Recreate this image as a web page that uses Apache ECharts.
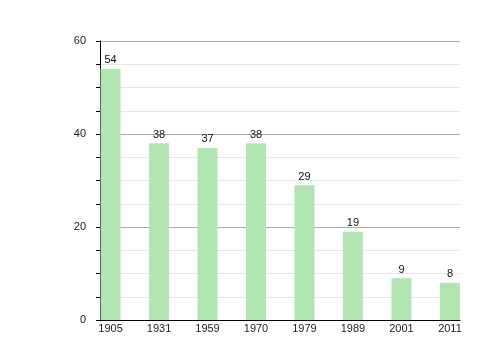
<!DOCTYPE html>
<html>
<head>
<meta charset="utf-8">
<script src="https://cdn.jsdelivr.net/npm/echarts@6/dist/echarts.min.js"></script>
<style>html,body{margin:0;padding:0;background:#fff}#c{width:500px;height:360px}</style>
</head>
<body>
<div id="c"></div>
<script>
var years = ['1905','1931','1959','1970','1979','1989','2001','2011'];
var values = [54, 38, 37, 38, 29, 19, 9, 8];
var yTicks = [0, 20, 40, 60];

var chart = echarts.init(document.getElementById('c'), null, {renderer: 'canvas'});
var idx = years.map(function (_, i) { return i; });
chart.setOption({
  animation: false,
  backgroundColor: '#ffffff',
  grid: {left: 100, top: 41, width: 360, height: 279, containLabel: false},
  xAxis: {
    type: 'value',
    min: -0.217,
    max: 7.207,
    axisLine: {show: true, onZero: false, lineStyle: {color: '#000', width: 1}},
    axisTick: {show: false},
    splitLine: {show: false},
    axisLabel: {
      customValues: idx,
      formatter: function (v) { return years[Math.round(v)]; },
      color: '#222', fontSize: 11, fontFamily: 'Liberation Sans, Arial, sans-serif', margin: 3
    }
  },
  yAxis: {
    type: 'value',
    min: yTicks[0],
    max: yTicks[yTicks.length - 1],
    interval: 20,
    axisLine: {show: true, onZero: false, lineStyle: {color: '#000', width: 1}},
    axisTick: {show: true, length: 4, lineStyle: {color: '#000'}},
    minorTick: {show: true, splitNumber: 4, length: 4, lineStyle: {color: '#000'}},
    splitLine: {show: true, lineStyle: {color: '#aaaaaa', width: 1}},
    minorSplitLine: {show: true, lineStyle: {color: '#e6e6e6', width: 1}},
    axisLabel: {color: '#222', fontSize: 11, fontFamily: 'Liberation Sans, Arial, sans-serif', margin: 14}
  },
  series: [{
    type: 'bar',
    barWidth: 20,
    clip: false,
    itemStyle: {color: '#b3e5b3'},
    label: {show: true, position: 'top', distance: 3, color: '#111', fontSize: 11, fontFamily: 'Liberation Sans, Arial, sans-serif'},
    data: values.map(function (v, i) { return [i, v]; })
  }]
});
</script>
</body>
</html>
